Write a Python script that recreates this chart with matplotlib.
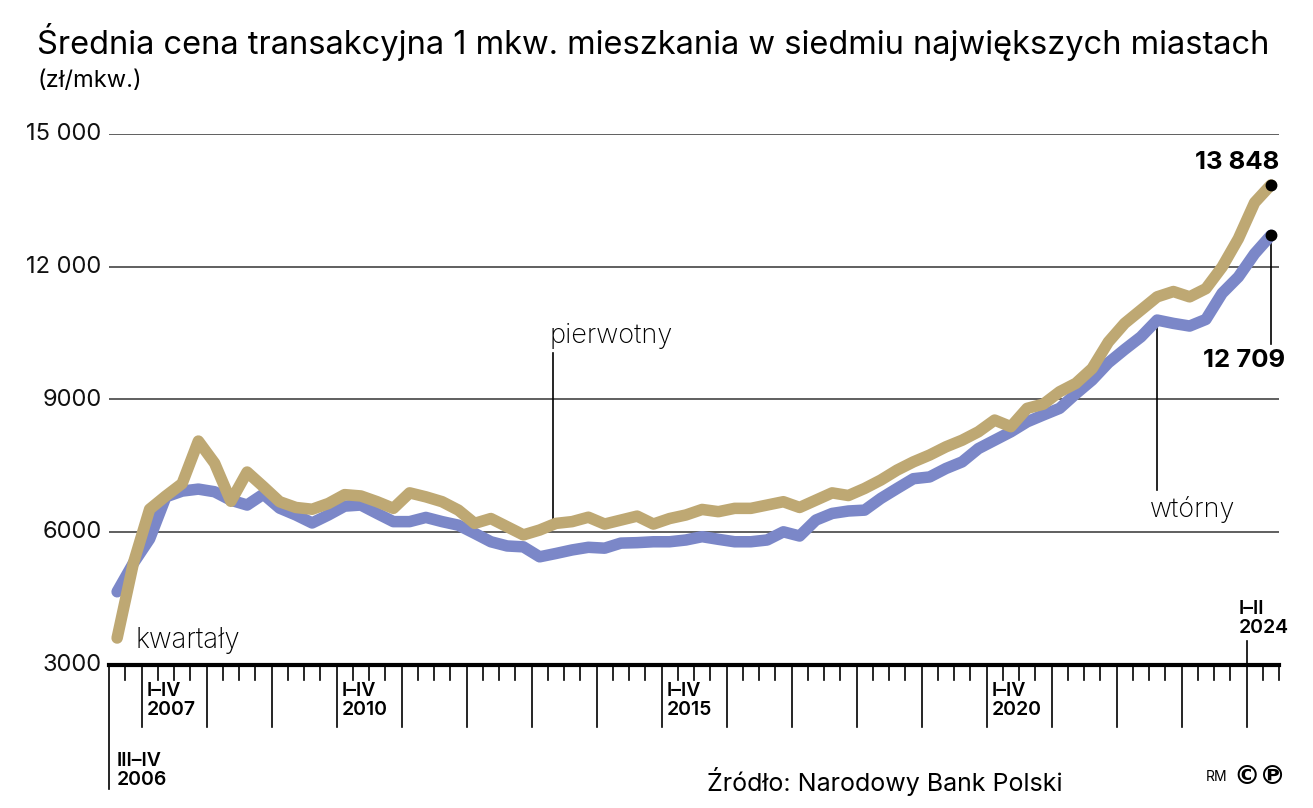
import matplotlib
matplotlib.use("Agg")
import matplotlib.pyplot as plt
import matplotlib.transforms as mtransforms
import numpy as np

plt.rcParams['font.family'] = ['Inter', 'DejaVu Sans']

# kwartały od III 2006 do II 2024
years = list(range(2006, 2025))
quarters = ['%d Q%d' % (y, q) for y in years for q in range(1, 5)][2:-2]

# pierwotny rynek (zł/mkw.)
pierwotny = [3610, 5300, 6520, 6820, 7100, 8060, 7560, 6700, 7360, 7030,
             6690, 6560, 6520, 6650, 6850, 6820, 6690, 6540, 6890, 6800,
             6690, 6500, 6200, 6310, 6125, 5940, 6050, 6200, 6240, 6340,
             6185, 6275, 6365, 6185, 6310, 6390, 6515, 6465, 6540, 6540,
             6615, 6690, 6560, 6725, 6890, 6830, 6990, 7180, 7405, 7590,
             7745, 7930, 8080, 8270, 8535, 8385, 8800, 8895, 9175, 9365,
             9700, 10300, 10720, 11020, 11320, 11440, 11320, 11505, 11995, 12635,
             13450, 13848]
# wtórny rynek (zł/mkw.)
wtorny = [4655, 5300, 5850, 6800, 6930, 6975, 6915, 6725, 6615, 6860,
          6545, 6390, 6210, 6390, 6590, 6615, 6425, 6240, 6240, 6335,
          6240, 6160, 5975, 5785, 5690, 5670, 5445, 5520, 5600, 5660,
          5640, 5755, 5765, 5785, 5785, 5825, 5900, 5840, 5785, 5785,
          5825, 6010, 5915, 6275, 6425, 6480, 6500, 6765, 6990, 7210,
          7250, 7440, 7590, 7890, 8080, 8270, 8495, 8650, 8800, 9130,
          9440, 9830, 10130, 10415, 10795, 10720, 10660, 10810, 11400, 11770,
          12295, 12709]
yticks = [3000, 6000, 9000, 12000, 15000]
ytick_labels = ['3000', '6000', '9000', '12 000', '15 000']
year_labels = {2007: 'I–IV\n2007', 2010: 'I–IV\n2010', 2015: 'I–IV\n2015', 2020: 'I–IV\n2020'}

GOLD = '#bea873'
BLUE = '#7b87c8'
W, H = 1313, 808

fig = plt.figure(figsize=(W / 100, H / 100), dpi=100)
# osie w pikselach: lewa 109, prawa 1279, góra 134 (15000), dół 665 (3000)
ax = fig.add_axes([109 / W, (H - 665) / H, 1170 / W, 531 / H])
x = np.arange(len(quarters))
ax.set_xlim(-0.5, len(quarters) - 0.5)
ax.set_ylim(3000, 15000)
for s in ax.spines.values():
    s.set_visible(False)
ax.set_xticks([])
ax.set_yticks([])

# siatka
for v, lab in zip(yticks, ytick_labels):
    if v > 3000:
        ax.axhline(v, color='#444444', lw=1.2, zorder=1)
    ax.text(-0.95, v, lab, ha='right', va='center', fontsize=17, color='#111111')

ax.plot(x, wtorny, color=BLUE, lw=8.3, solid_joinstyle='round', solid_capstyle='round', zorder=3)
ax.plot(x, pierwotny, color=GOLD, lw=8.3, solid_joinstyle='round', solid_capstyle='round', zorder=4)

# oś kwartałów
ax.axhline(3000, color='black', lw=3, zorder=5, clip_on=False)
tr = mtransforms.blended_transform_factory(ax.transData, ax.transAxes)
px = 1 / 531
for k in range(len(quarters) + 1):
    xb = k - 0.5
    q = (k + 2) % 4
    if k == 0:
        y0 = -124 * px
    elif q == 0:
        y0 = -62 * px
    else:
        y0 = -15 * px
    ax.plot([xb, xb], [0, y0], color='black', lw=1.2, transform=tr, clip_on=False)
    if q == 0 and k > 0:
        yr = 2006 + (k + 2) // 4
        if yr in year_labels:
            ax.text(xb + 0.33, -17 * px, year_labels[yr], transform=tr, ha='left', va='top',
                    fontsize=14, fontweight='semibold', linespacing=1.05)
# I–II 2024
k24 = len(quarters) - 2
ax.plot([k24 - 0.5, k24 - 0.5], [0, 24 * px], color='black', lw=1.2, transform=tr, clip_on=False)
ax.text(k24 - 0.5 - 0.5, 28 * px, 'I–II\n2024', transform=tr, ha='left', va='bottom',
        fontsize=14, fontweight='semibold', linespacing=1.05)
ax.text(-0.05, -87 * px, 'III–IV\n2006', transform=tr, ha='left', va='top',
        fontsize=14, fontweight='semibold', linespacing=1.05)
ax.text(1.1, 3250, 'kwartały', ha='left', va='bottom', fontsize=20, fontweight='light')

# opisy serii
ip = 26.8
yp = np.interp(ip, x, pierwotny)
ax.plot([ip, ip], [yp, 10050], color='black', lw=1.2, zorder=2)
ax.text(ip - 0.2, 10130, 'pierwotny', ha='left', va='bottom', fontsize=19.5, fontweight='light')
iw = 64
ax.plot([iw, iw], [wtorny[iw], 6950], color='black', lw=1.2, zorder=2)
ax.text(iw - 0.45, 6220, 'wtórny', ha='left', va='bottom', fontsize=19.5, fontweight='light')

# wartości końcowe
last = len(quarters) - 1
ax.plot([last, last], [wtorny[last], 10250], color='black', lw=1.2, zorder=2)
ax.plot([last, last], [pierwotny[last], wtorny[last]], 'o', color='black', ms=7.5, zorder=6, clip_on=False)
ax.text(last + 0.5, pierwotny[last] + 250, '13 848', ha='right', va='bottom', fontsize=18.5, fontweight='bold')
ax.text(last + 0.9, 10150, '12 709', ha='right', va='top', fontsize=18.5, fontweight='bold')

fig.text(37 / W, 1 - 42 / H, 'Średnia cena transakcyjna 1 mkw. mieszkania w siedmiu największych miastach',
         ha='left', va='center', fontsize=23.5)
fig.text(37 / W, 1 - 81 / H, '(zł/mkw.)', ha='left', va='center', fontsize=17)
fig.text(707 / W, 1 - 781 / H, 'Źródło: Narodowy Bank Polski', ha='left', va='center', fontsize=18)
fig.text(1206 / W, 1 - 777 / H, 'RM', ha='left', va='center', fontsize=10)
fig.text(1286 / W, 1 - 777 / H, '©℗', ha='right', va='center', fontsize=19, fontweight='bold',
         family=['DejaVu Sans'])

fig.savefig('out.png', dpi=100)
